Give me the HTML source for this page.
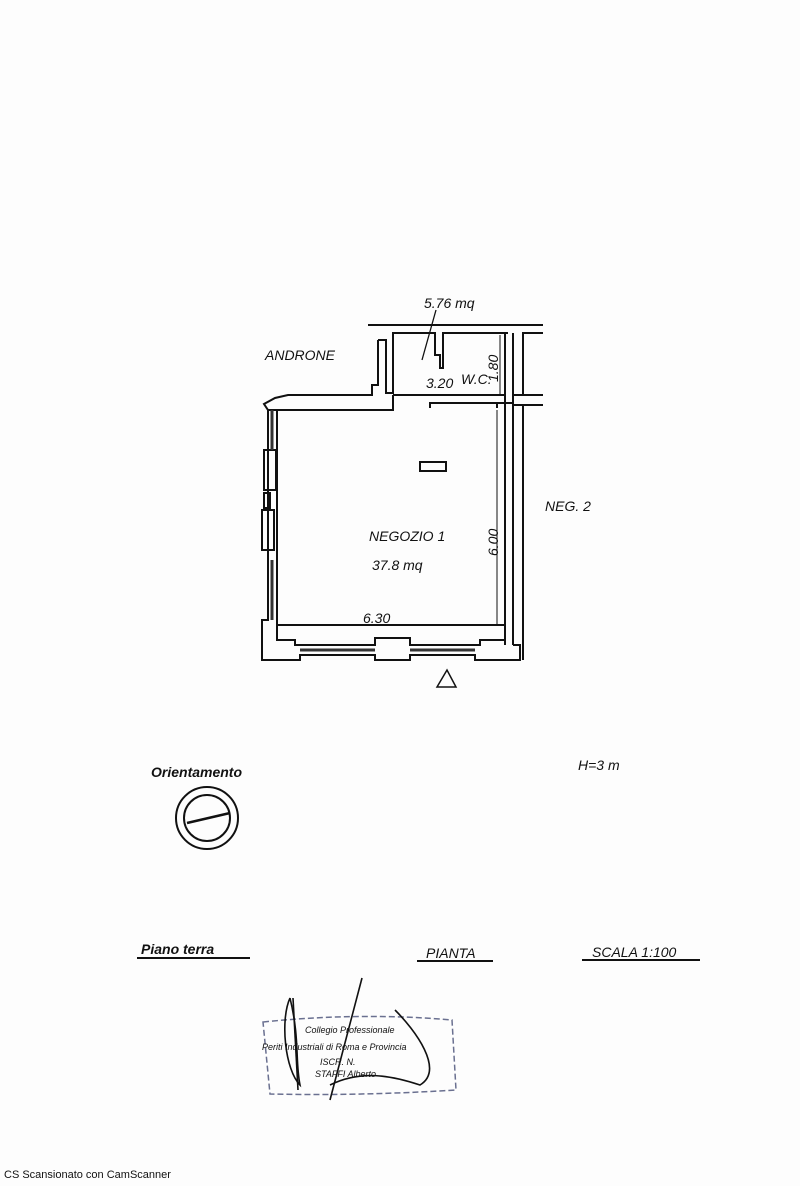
<!DOCTYPE html>
<html><head><meta charset="utf-8"><style>
html,body{margin:0;padding:0;background:#fff}
svg{display:block}
text{font-family:"Liberation Sans",sans-serif;font-style:italic;fill:#111}
</style></head><body>
<svg width="800" height="1186" viewBox="0 0 800 1186" xmlns="http://www.w3.org/2000/svg">
<rect width="800" height="1186" fill="#fdfdfd"/>
<g fill="none" stroke="#111" stroke-width="2">
<!-- top street line -->
<line x1="368" y1="325" x2="543" y2="325"/>
<!-- androne wall -->
<path d="M378 340 H386 V393 H393 V333 H435 V355 H440 V368 H443 V333 H508"/>
<path d="M393 395 H505"/>
<!-- left upper wall -->
<path d="M378 340 V385 H372 V395 H288 L275 398 L264 404 L268 410 H393 V395"/>
<path d="M430 408 V403 H497 V408"/>
<!-- shop interior -->
<path d="M277 410 V625 H505 V410"/>
<path d="M268 410 V620 H262 V660 H300 V655 H375 V660 H410 V655 H475 V660 H520 V645 H513"/>
<path d="M277 625 V640 H295 V645 H375 V638 H410 V645 H480 V640 H505"/>
<!-- right double wall -->
<line x1="505" y1="333" x2="505" y2="645"/>
<line x1="513" y1="333" x2="513" y2="645"/>
<path d="M543 333 H523 V395 H543"/>
<path d="M543 405 H523 V660"/>
<path d="M513 395 H523 M513 405 H523 M497 403 H513"/>
<!-- left windows -->
<rect x="264" y="450" width="12" height="40"/>
<rect x="262" y="510" width="12" height="40"/>
<rect x="264" y="493" width="6" height="15"/>
<!-- column -->
<rect x="420" y="462" width="26" height="9"/>
<!-- dimension lines -->
<line x1="500" y1="335" x2="500" y2="395" stroke-width="1"/>
<line x1="497" y1="410" x2="497" y2="625" stroke-width="1"/>
<!-- leader -->
<line x1="436" y1="310" x2="422" y2="360" stroke-width="1.3"/>
<!-- triangle -->
<path d="M437 687 L447 670 L456 687 Z" stroke-width="1.5"/>
<!-- orientamento -->
<circle cx="207" cy="818" r="31"/>
<circle cx="207" cy="818" r="23"/>
<line x1="187" y1="823" x2="230" y2="813" stroke-width="2.5"/>
<!-- underlines -->
<line x1="137" y1="958" x2="250" y2="958"/>
<line x1="417" y1="961" x2="493" y2="961"/>
<line x1="582" y1="960" x2="700" y2="960"/>
</g>
<g stroke="#333" stroke-width="3" fill="none">
<line x1="272" y1="410" x2="272" y2="450"/>
<line x1="272" y1="560" x2="272" y2="620"/>
<line x1="300" y1="650" x2="375" y2="650"/>
<line x1="410" y1="650" x2="475" y2="650"/>
</g>
<text x="424" y="308" font-size="14">5.76 mq</text>
<text x="265" y="360" font-size="14">ANDRONE</text>
<text x="426" y="388" font-size="14">3.20</text>
<text x="461" y="384" font-size="14">W.C.</text>
<text transform="translate(498,382) rotate(-90)" font-size="14">1.80</text>
<text x="369" y="541" font-size="14">NEGOZIO 1</text>
<text x="372" y="570" font-size="14">37.8 mq</text>
<text transform="translate(498,556) rotate(-90)" font-size="14">6.00</text>
<text x="545" y="511" font-size="14">NEG. 2</text>
<text x="363" y="623" font-size="14">6.30</text>
<text x="578" y="770" font-size="14">H=3 m</text>
<text x="151" y="777" font-size="14" font-weight="bold">Orientamento</text>
<text x="141" y="954" font-size="14" font-weight="bold">Piano  terra</text>
<text x="426" y="958" font-size="14">PIANTA</text>
<text x="592" y="957" font-size="14">SCALA  1:100</text>
<!-- stamp -->
<path d="M263 1022 Q360 1012 452 1020 L456 1090 Q360 1096 270 1094 Z" fill="none" stroke="#6a7090" stroke-width="1.5" stroke-dasharray="6 3"/>
<g font-size="9" fill="#556" style="font-style:normal">
<text x="305" y="1033" fill="#556">Collegio Professionale</text>
<text x="262" y="1050" fill="#556">Periti Industriali di Roma e Provincia</text>
<text x="320" y="1065" fill="#556">ISCR. N.</text>
<text x="315" y="1077" fill="#556">STAFFI Alberto</text>
</g>
<g fill="none" stroke="#111" stroke-width="1.6">
<path d="M290 998 C280 1020 285 1070 300 1085 C295 1060 300 1040 290 998"/>
<path d="M293 998 L298 1090"/>
<path d="M362 978 L330 1100"/>
<path d="M395 1010 C415 1030 445 1070 420 1085 C390 1075 360 1070 330 1085"/>
</g>
<text x="4" y="1178" font-size="11" fill="#999" style="font-style:normal">CS Scansionato con CamScanner</text>
</svg>
</body></html>
